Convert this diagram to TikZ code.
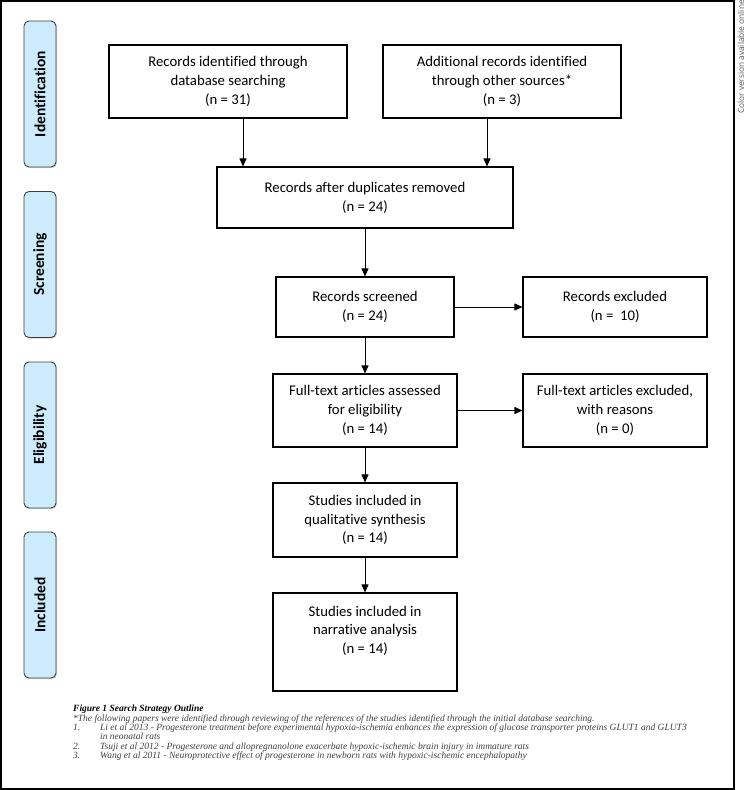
\documentclass[tikz,border=0pt]{standalone}
\usepackage{fontspec}
\setmainfont{Carlito}[Ligatures=NoCommon]
\newfontfamily\capfont{Liberation Serif}
\newfontfamily\sidefont{Open Sans}
\usetikzlibrary{positioning,shapes,shadows,arrows.meta}
\definecolor{stagefill}{RGB}{204,236,253}

\begin{document}
\begin{tikzpicture}[x=1pt,y=-1pt]
\tikzstyle{every node}+=[inner sep=0pt]
\tikzstyle{box}=[draw=black, line width=1.1pt, align=center, font=\fontsize{14.75}{18.8}\selectfont]
\tikzstyle{stage}=[draw=black!75, fill=stagefill, rounded corners=5pt, line width=0.9pt, rotate=90, minimum width=146pt, minimum height=32pt, font=\fontsize{15.5}{18}\selectfont\bfseries, drop shadow={shadow xshift=1pt,shadow yshift=-1pt,fill=black!35}]
\tikzstyle{arr}=[-{Triangle[width=7pt,length=8pt]}, line width=0.9pt]
\tikzstyle{capline}=[anchor=base west, text=black!75, font=\capfont\itshape\fontsize{9.5}{9.5}\selectfont]

\useasboundingbox (0,0) rectangle (746,790);
\draw [line width=1.5pt] (1,1) rectangle (734,789);

\node [stage] (ident) at (40,94) {Identification};
\node [stage] (screen) at (40,264.5) {Screening};
\node [stage] (elig) at (40,435) {Eligibility};
\node [stage] (incl) at (40,605) {Included};

\node [box, minimum width=238pt, minimum height=73pt] (srcdb) at (228,81.5) {Records identified through\\database searching\\(n = 31)};
\node [box, minimum width=238pt, minimum height=73pt] (srcother) at (502,81.5) {Additional records identified\\through other sources*\\(n = 3)};
\node [box, minimum width=296pt, minimum height=61pt] (dedup) at (365,197.5) {Records after duplicates removed\\(n = 24)};
\node [box, minimum width=178pt, minimum height=60pt] (screened) at (365,307) {Records screened\\(n = 24)};
\node [box, minimum width=184pt, minimum height=60pt] (excl) at (615,307) {Records excluded\\(n = \ 10)};
\node [box, minimum width=184pt, minimum height=73pt] (fulltext) at (365,410.5) {Full-text articles assessed\\for eligibility\\(n = 14)};
\node [box, minimum width=184pt, minimum height=73pt] (ftexcl) at (615,410.5) {Full-text articles excluded,\\with reasons\\(n = 0)};
\node [box, minimum width=184pt, minimum height=74pt] (qual) at (365,520) {Studies included in\\qualitative synthesis\\(n = 14)};
\node [box, minimum width=184pt, minimum height=98pt] (narr) at (365,642) {Studies included in\\narrative analysis\\(n = 14)\\ \strut};

\draw [arr] ([xshift=15pt]srcdb.south) -- ([xshift=15pt]srcdb.south |- dedup.north);
\draw [arr] ([xshift=-15pt]srcother.south) -- ([xshift=-15pt]srcother.south |- dedup.north);
\draw [arr] (dedup) -- (screened);
\draw [arr] (screened) -- (fulltext);
\draw [arr] (fulltext) -- (qual);
\draw [arr] (qual) -- (narr);
\draw [arr] (screened) -- (excl);
\draw [arr] (fulltext) -- (ftexcl);

\node [capline, text=black] (captitle) at (73,711) {\bfseries Figure 1 Search Strategy Outline};
\node [capline] (capnote) at (73,721) {*The following papers were identified through reviewing of the references of the studies identified through the initial database searching.};
\node [capline] (num1) at (73,730.5) {1.};
\node [capline] (ref1) at (100,730.5) {Li et al 2013 - Progesterone treatment before experimental hypoxia-ischemia enhances the expression of glucose transporter proteins GLUT1 and GLUT3};
\node [capline] (ref1b) at (100,739.5) {in neonatal rats};
\node [capline] (num2) at (73,749) {2.};
\node [capline] (ref2) at (100,749) {Tsuji et al 2012 - Progesterone and allopregnanolone exacerbate hypoxic-ischemic brain injury in immature rats};
\node [capline] (num3) at (73,758.5) {3.};
\node [capline] (ref3) at (100,758.5) {Wang et al 2011 - Neuroprotective effect of progesterone in newborn rats with hypoxic-ischemic encephalopathy};

\node [rotate=90, text=black!65, font=\sidefont\fontsize{8.3}{10}\selectfont] (colnote) at (741,57) {Color version available online};
\end{tikzpicture}
\end{document}
